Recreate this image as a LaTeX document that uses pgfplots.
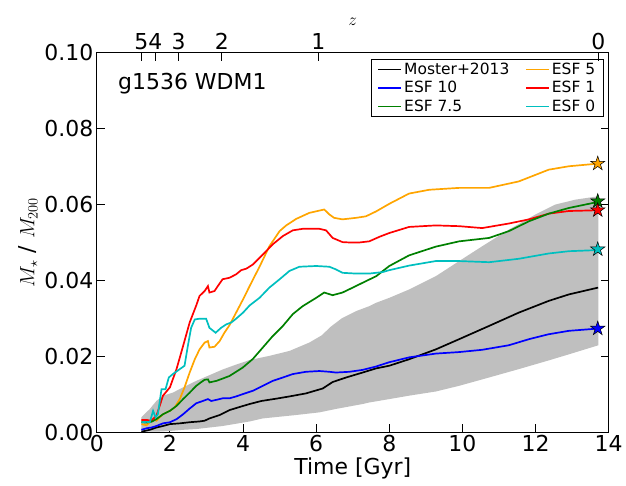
\documentclass[border=0pt]{standalone}
\usepackage{fontspec}
\setmainfont{DejaVu Sans}
\usepackage{pgfplots}
\pgfplotsset{compat=1.18}
\usepgfplotslibrary{fillbetween}
\definecolor{mgreen}{rgb}{0,0.5,0}
\definecolor{morange}{rgb}{1,0.647,0}
\definecolor{mcyan}{rgb}{0,0.75,0.75}
\definecolor{mgrey}{rgb}{0.75,0.75,0.75}
\pgfdeclareplotmark{fstar}{%
  \pgfpathmoveto{\pgfpointpolar{90}{\pgfplotmarksize}}%
  \pgfpathlineto{\pgfpointpolar{126}{0.382\pgfplotmarksize}}%
  \pgfpathlineto{\pgfpointpolar{162}{\pgfplotmarksize}}%
  \pgfpathlineto{\pgfpointpolar{198}{0.382\pgfplotmarksize}}%
  \pgfpathlineto{\pgfpointpolar{234}{\pgfplotmarksize}}%
  \pgfpathlineto{\pgfpointpolar{270}{0.382\pgfplotmarksize}}%
  \pgfpathlineto{\pgfpointpolar{306}{\pgfplotmarksize}}%
  \pgfpathlineto{\pgfpointpolar{342}{0.382\pgfplotmarksize}}%
  \pgfpathlineto{\pgfpointpolar{18}{\pgfplotmarksize}}%
  \pgfpathlineto{\pgfpointpolar{54}{0.382\pgfplotmarksize}}%
  \pgfpathclose
  \pgfusepathqfillstroke}
\begin{document}
\begin{tikzpicture}
\path (-97pt,-54pt) rectangle (529pt,433pt);
\begin{axis}[
  at={(0pt,0pt)}, anchor=south west,
  scale only axis, width=513pt, height=380pt,
  xmin=0, xmax=14, ymin=0, ymax=0.1,
  xtick={0,2,4,6,8,10,12,14},
  ytick={0,0.02,0.04,0.06,0.08,0.1},
  scaled y ticks=false,
  yticklabel style={/pgf/number format/fixed,/pgf/number format/fixed zerofill,/pgf/number format/precision=2},
  /pgf/number format/assume math mode=true,
  tick align=inside, xtick pos=lower, ytick pos=both,
  major tick length=8pt,
  tick style={black, line width=0.9pt},
  axis line style={line width=1pt},
  ticklabel style={font=\fontsize{22}{26}\selectfont},
  label style={font=\fontsize{22}{26}\selectfont},
  xlabel={Time [Gyr]},
  ylabel={$M_\star$ / $M_{200}$},
  xlabel style={yshift=1pt},
  legend columns=2,
  legend cell align=left,
  legend image code/.code={\draw[#1, line width=1.7pt] (0pt,0pt) -- (23pt,0pt);},
  legend style={at={(0.99,0.985)}, anchor=north east, draw=black, line width=0.8pt,
    font=\fontsize{15.5}{17}\selectfont, row sep=1.5pt, inner xsep=6pt,
    /tikz/every even column/.append style={column sep=14pt}},
  every axis plot/.append style={line width=1.7pt},
]
\addplot[name path=gtop, draw=none, forget plot] coordinates {
(1.22,0.0039)(1.45,0.0061)(1.63,0.0082)(1.81,0.0096)(2.08,0.0104)(2.36,0.0118)(2.72,0.0135)(3.08,0.0150)(3.44,0.0165)(3.81,0.0178)(4.18,0.0190)(4.72,0.0201)(5.27,0.0214)(5.81,0.0236)(6.15,0.0255)(6.4,0.0278)(6.7,0.0300)(7.09,0.0319)(7.45,0.0332)(7.64,0.0341)(8.0,0.0354)(8.54,0.0376)(9.27,0.0411)(9.91,0.0451)(10.54,0.0490)(11.27,0.0534)(12.0,0.0574)(12.54,0.0600)(13.09,0.0613)(13.72,0.0622)};
\addplot[name path=gbot, draw=none, forget plot] coordinates {
(1.22,0.0001)(1.63,0.0001)(2.0,0.0003)(2.36,0.0006)(2.72,0.0008)(3.08,0.0012)(3.44,0.0016)(3.81,0.0022)(4.18,0.0028)(4.54,0.0036)(5.45,0.0045)(6.09,0.0052)(6.54,0.0061)(7.27,0.0074)(7.45,0.0078)(8.0,0.0087)(8.54,0.0096)(9.27,0.0107)(9.91,0.0122)(10.73,0.0144)(11.54,0.0166)(12.36,0.0189)(12.91,0.0205)(13.72,0.0229)};
\addplot[mgrey, draw=none, forget plot] fill between[of=gtop and gbot];

\addplot[black] coordinates {
(1.22,0.0001)(1.45,0.0006)(1.63,0.0012)(1.81,0.0016)(2.0,0.0021)(2.27,0.0023)(2.54,0.0026)(2.81,0.0028)(2.95,0.0030)(3.08,0.0036)(3.36,0.0045)(3.63,0.0058)(3.9,0.0066)(4.18,0.0074)(4.5,0.0082)(4.9,0.0088)(5.27,0.0094)(5.72,0.0102)(6.18,0.0115)(6.45,0.0132)(6.82,0.0144)(7.27,0.0157)(7.64,0.0168)(8.0,0.0175)(8.54,0.0192)(9.27,0.0218)(9.91,0.0245)(10.73,0.0280)(11.54,0.0315)(12.36,0.0346)(12.91,0.0363)(13.71,0.0381)};
\addlegendentry{Moster+2013}
\addplot[morange] coordinates {
(1.22,0.0021)(1.36,0.0018)(1.45,0.0026)(1.54,0.0034)(1.63,0.0030)(1.72,0.0039)(1.81,0.0047)(2.0,0.0056)(2.13,0.0065)(2.27,0.0087)(2.40,0.0118)(2.54,0.0157)(2.68,0.0192)(2.81,0.0218)(2.95,0.0236)(3.04,0.0240)(3.08,0.0223)(3.22,0.0225)(3.36,0.0240)(3.49,0.0262)(3.63,0.0282)(3.81,0.0315)(4.0,0.0350)(4.18,0.0385)(4.45,0.0436)(4.72,0.0490)(5.0,0.0530)(5.18,0.0545)(5.45,0.0562)(5.81,0.0578)(6.22,0.0587)(6.36,0.0574)(6.49,0.0565)(6.72,0.0561)(7.09,0.0565)(7.36,0.0569)(7.64,0.0582)(8.0,0.0602)(8.54,0.0629)(9.09,0.0639)(9.91,0.0644)(10.73,0.0644)(11.54,0.0661)(12.36,0.0692)(12.91,0.0701)(13.71,0.0708)};
\addlegendentry{ESF 5}
\addplot[blue] coordinates {
(1.22,0.0006)(1.36,0.0010)(1.49,0.0012)(1.63,0.0016)(1.81,0.0023)(2.0,0.0026)(2.18,0.0034)(2.36,0.0047)(2.54,0.0062)(2.72,0.0076)(2.9,0.0082)(3.04,0.0087)(3.13,0.0082)(3.27,0.0085)(3.44,0.0089)(3.63,0.0089)(3.81,0.0094)(3.99,0.0100)(4.27,0.0109)(4.54,0.0122)(4.81,0.0135)(5.09,0.0144)(5.36,0.0153)(5.72,0.0159)(6.09,0.0161)(6.36,0.0159)(6.54,0.0157)(6.91,0.0159)(7.27,0.0164)(7.64,0.0173)(7.99,0.0184)(8.54,0.0197)(9.27,0.0207)(9.91,0.0211)(10.54,0.0217)(11.27,0.0229)(11.82,0.0245)(12.36,0.0258)(12.91,0.0267)(13.71,0.0273)};
\addlegendentry{ESF 10}
\addplot[red] coordinates {
(1.22,0.0032)(1.36,0.0032)(1.49,0.0030)(1.63,0.0043)(1.72,0.0069)(1.81,0.0096)(2.0,0.0118)(2.18,0.0166)(2.36,0.0227)(2.54,0.0289)(2.72,0.0334)(2.81,0.0359)(2.95,0.0372)(3.04,0.0385)(3.08,0.0368)(3.22,0.0372)(3.31,0.0385)(3.44,0.0403)(3.63,0.0407)(3.81,0.0416)(3.95,0.0427)(4.09,0.0431)(4.27,0.0442)(4.54,0.0468)(4.81,0.0495)(5.09,0.0517)(5.36,0.0532)(5.63,0.0536)(6.09,0.0536)(6.27,0.0532)(6.45,0.0512)(6.72,0.0501)(6.91,0.0500)(7.18,0.0500)(7.45,0.0503)(7.73,0.0515)(8.0,0.0525)(8.54,0.0541)(9.27,0.0545)(9.91,0.0543)(10.54,0.0538)(11.27,0.0550)(11.82,0.0561)(12.36,0.0576)(12.91,0.0583)(13.71,0.0585)};
\addlegendentry{ESF 1}
\addplot[mgreen] coordinates {
(1.22,0.0026)(1.36,0.0025)(1.49,0.0027)(1.63,0.0034)(1.81,0.0047)(2.0,0.0056)(2.18,0.0069)(2.36,0.0087)(2.54,0.0104)(2.72,0.0122)(2.86,0.0132)(2.95,0.0138)(3.04,0.0139)(3.08,0.0131)(3.27,0.0135)(3.44,0.0141)(3.63,0.0148)(3.99,0.0170)(4.27,0.0193)(4.54,0.0223)(4.81,0.0253)(5.09,0.0280)(5.36,0.0311)(5.63,0.0332)(6.0,0.0354)(6.22,0.0368)(6.45,0.0361)(6.72,0.0368)(7.0,0.0381)(7.36,0.0398)(7.64,0.0411)(8.0,0.0438)(8.54,0.0466)(9.27,0.0489)(9.91,0.0503)(10.73,0.0512)(11.27,0.0530)(11.82,0.0556)(12.36,0.0576)(12.91,0.0591)(13.71,0.0607)};
\addlegendentry{ESF 7.5}
\addplot[mcyan] coordinates {
(1.22,0.0026)(1.36,0.0027)(1.45,0.0026)(1.54,0.0056)(1.61,0.0039)(1.67,0.0047)(1.77,0.0113)(1.88,0.0113)(1.97,0.0144)(2.08,0.0153)(2.27,0.0166)(2.40,0.0175)(2.49,0.0227)(2.58,0.0275)(2.68,0.0297)(2.81,0.0299)(2.99,0.0299)(3.08,0.0275)(3.25,0.0262)(3.40,0.0275)(3.54,0.0284)(3.68,0.0289)(3.81,0.0299)(4.0,0.0315)(4.18,0.0334)(4.45,0.0354)(4.72,0.0381)(5.0,0.0403)(5.27,0.0425)(5.54,0.0436)(6.0,0.0438)(6.36,0.0436)(6.54,0.0429)(6.72,0.0420)(7.09,0.0418)(7.45,0.0418)(7.82,0.0422)(8.0,0.0427)(8.54,0.0439)(9.27,0.0451)(9.91,0.0451)(10.73,0.0448)(11.54,0.0457)(12.36,0.0471)(12.91,0.0477)(13.71,0.0480)};
\addlegendentry{ESF 0}

\addplot[only marks, mark=fstar, mark size=7.5pt, mark options={fill=blue, draw=black, line width=0.5pt}, forget plot] coordinates {(13.7,0.0273)};
\addplot[only marks, mark=fstar, mark size=7.5pt, mark options={fill=mgreen, draw=black, line width=0.5pt}, forget plot] coordinates {(13.7,0.0609)};
\addplot[only marks, mark=fstar, mark size=7.5pt, mark options={fill=morange, draw=black, line width=0.5pt}, forget plot] coordinates {(13.7,0.0708)};
\addplot[only marks, mark=fstar, mark size=7.5pt, mark options={fill=red, draw=black, line width=0.5pt}, forget plot] coordinates {(13.7,0.0585)};
\addplot[only marks, mark=fstar, mark size=7.5pt, mark options={fill=mcyan, draw=black, line width=0.5pt}, forget plot] coordinates {(13.7,0.0482)};

\node[anchor=west, font=\fontsize{22}{26}\selectfont] at (rel axis cs:0.035,0.92) {g1536 WDM1};
\end{axis}
\begin{axis}[
  at={(0pt,0pt)}, anchor=south west,
  scale only axis, width=513pt, height=380pt,
  xmin=0, xmax=14, ymin=0, ymax=0.1,
  axis x line*=top, hide y axis,
  xtick={1.22,1.60,2.24,3.42,6.06,13.72},
  xticklabels={5,4,3,2,1,0},
  tick align=inside, major tick length=8pt,
  tick style={black, line width=0.9pt},
  axis line style={line width=1pt},
  /pgf/number format/assume math mode=true,
  ticklabel style={font=\fontsize{22}{26}\selectfont},
  xlabel={$z$},
  xlabel style={font=\fontsize{17}{19}\selectfont},
]
\end{axis}
\end{tikzpicture}
\end{document}
